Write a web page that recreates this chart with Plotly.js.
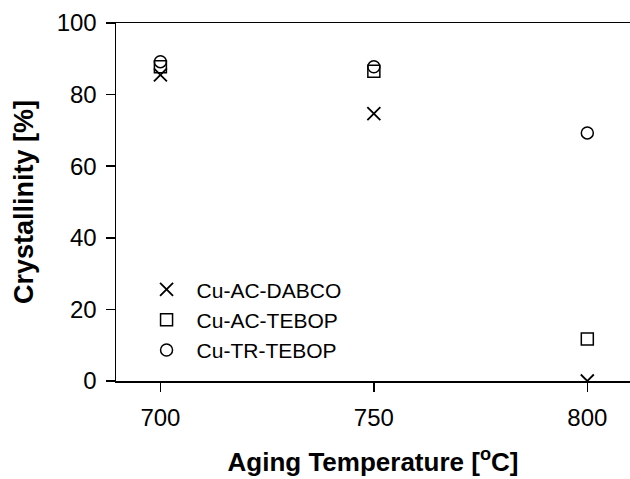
<!DOCTYPE html>
<html><head><meta charset="utf-8">
<script src="https://cdn.plot.ly/plotly-3.0.1.min.js"></script>
<style>body{margin:0;padding:0;background:#fff}#chart{width:630px;height:479px}</style>
</head><body><div id="chart"></div>
<script>
const temps = [700, 750, 800];
const dabco = [85.5, 74.7, 0];
const acTebop = [87.8, 86.5, 11.7];
const trTebop = [89.2, 87.8, 69.3];
const names = ["Cu-AC-DABCO", "Cu-AC-TEBOP", "Cu-TR-TEBOP"];
const xTicks = [700, 750, 800];
const yTicks = [0, 20, 40, 60, 80, 100];

const mk = (sym) => ({symbol: sym, size: 12, color: '#000', line: {color: '#000', width: 1.5}});
const traces = [
  {x: temps, y: dabco, name: names[0], mode: 'markers', type: 'scatter', marker: {symbol: 'x-thin-open', size: 13, color: '#000', line: {color: '#000', width: 1.8}}},
  {x: temps, y: acTebop, name: names[1], mode: 'markers', type: 'scatter', marker: mk('square-open')},
  {x: temps, y: trTebop, name: names[2], mode: 'markers', type: 'scatter', marker: mk('circle-open')}
];
const fam = 'Liberation Sans, Arial, sans-serif';
const layout = {
  width: 630, height: 479,
  margin: {l: 116, r: 0, t: 23, b: 98},
  paper_bgcolor: '#fff', plot_bgcolor: '#fff',
  font: {family: fam, color: '#000'},
  showlegend: true,
  legend: {x: 0.04, y: 0.312, xanchor: 'left', yanchor: 'top', bgcolor: 'rgba(0,0,0,0)', font: {size: 21, family: fam, color: '#000'}, itemwidth: 50, tracegroupgap: 0},
  xaxis: {
    range: [689.6, 810], tickvals: xTicks, ticktext: xTicks.map(String),
    ticks: 'outside', ticklen: 9, tickwidth: 1.5, tickcolor: '#000', ticklabelstandoff: 6,
    showline: true, linecolor: '#000', linewidth: 1.5, mirror: true,
    showgrid: false, zeroline: false,
    tickfont: {size: 24, family: fam, color: '#000'},
    title: {text: 'Aging Temperature [<sup>o</sup>C]', font: {size: 26, family: fam, color: '#000', weight: 'bold'}, standoff: 22}
  },
  yaxis: {
    range: [0, 100], tickvals: yTicks,
    ticks: 'outside', ticklen: 9, tickwidth: 1.5, tickcolor: '#000', ticklabelstandoff: 4,
    showline: true, linecolor: '#000', linewidth: 1.5, mirror: true,
    showgrid: false, zeroline: false,
    tickfont: {size: 24, family: fam, color: '#000'},
    title: {text: 'Crystallinity [%]', font: {size: 27, family: fam, color: '#000', weight: 'bold'}, standoff: 15}
  }
};
Plotly.newPlot('chart', traces, layout, {displayModeBar: false, staticPlot: true});
</script></body></html>
